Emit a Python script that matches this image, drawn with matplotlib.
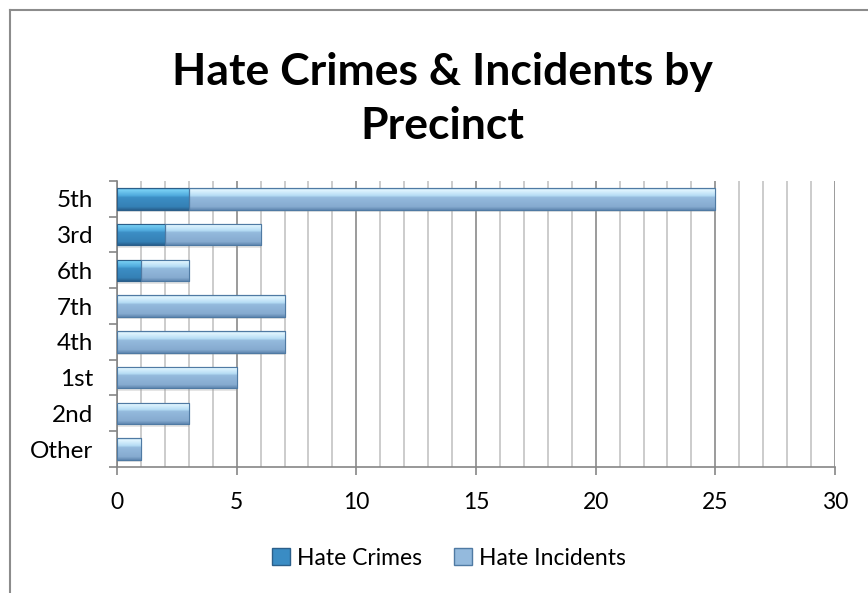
import numpy as np
import matplotlib
matplotlib.use("Agg")
import matplotlib.pyplot as plt
from matplotlib.colors import LinearSegmentedColormap
from matplotlib.lines import Line2D

precincts = ["5th", "3rd", "6th", "7th", "4th", "1st", "2nd", "Other"]
hate_crimes = [3, 2, 1, 0, 0, 0, 0, 0]
hate_incidents = [22, 4, 2, 7, 7, 5, 3, 1]

plt.rcParams['font.family'] = ['Lato', 'DejaVu Sans']

fig = plt.figure(figsize=(8.68, 5.93), dpi=100)
ax = fig.add_axes([0.1348, 0.2125, 0.8272, 0.4823])

y = np.arange(len(precincts))

# top -> bottom colour stops, imitating the bevelled Excel bars
crime_cmap = LinearSegmentedColormap.from_list("crime", [
    (0.0, "#3d8ac2"), (0.08, "#7ad0f4"), (0.35, "#4ea9dc"), (0.42, "#3c8ec5"),
    (0.85, "#3581b6"), (1.0, "#28608e")])
incid_cmap = LinearSegmentedColormap.from_list("incid", [
    (0.0, "#8ab3d6"), (0.08, "#e2f6ff"), (0.35, "#b5dcf4"), (0.42, "#94badd"),
    (0.85, "#86abd0"), (1.0, "#6087b0")])

totals = [c + i for c, i in zip(hate_crimes, hate_incidents)]
ax.barh(y + 0.07, totals, height=0.6, color="#9a9a9a", alpha=0.25,
        linewidth=0, zorder=2.5)

b1 = ax.barh(y, hate_crimes, height=0.6, color="#3a8cc4",
             edgecolor="#2b5f8a", linewidth=0.8, label="Hate Crimes", zorder=3)
b2 = ax.barh(y, hate_incidents, left=hate_crimes, height=0.6, color="#9cc0e2",
             edgecolor="#4f7aa3", linewidth=0.8, label="Hate Incidents", zorder=3)

grad = np.linspace(0, 1, 128).reshape(-1, 1)
for bars, cmap in ((b1, crime_cmap), (b2, incid_cmap)):
    for p in bars:
        if p.get_width() <= 0:
            continue
        x0, y0 = p.get_x(), p.get_y()
        # y axis is inverted, so row 0 lands on the visual top edge
        im = ax.imshow(grad, cmap=cmap, aspect="auto", origin="upper",
                       extent=(x0, x0 + p.get_width(), y0 + p.get_height(), y0),
                       zorder=3.5, interpolation="bilinear")
        im.set_clip_path(p)
        ax.add_patch(plt.Rectangle((x0, y0), p.get_width(), p.get_height(),
                                   fill=False, edgecolor=p.get_edgecolor(),
                                   linewidth=0.8, zorder=4))

ax.set_xlim(0, 30)
ax.set_ylim(len(precincts) - 0.5, -0.5)
ax.set_xticks(np.arange(0, 31, 5))
ax.set_xticks(np.arange(0, 31, 1), minor=True)
ax.set_yticks(y)
ax.set_yticklabels(precincts)
ax.set_yticks(np.arange(-0.5, len(precincts), 1), minor=True)

ax.grid(axis="x", which="minor", color="#c4c4c4", linewidth=1.2, zorder=0)
ax.grid(axis="x", which="major", color="#8a8a8a", linewidth=1.2, zorder=0)
ax.set_axisbelow(True)

for s in ["top", "right"]:
    ax.spines[s].set_visible(False)
ax.spines["left"].set_color("#868686")
ax.spines["bottom"].set_color("#868686")
ax.spines["left"].set_linewidth(1.2)
ax.spines["bottom"].set_linewidth(1.2)

ax.tick_params(axis="x", which="major", length=6, color="#868686", width=1.2,
               labelsize=16.5, pad=12)
ax.tick_params(axis="x", which="minor", length=0)
ax.tick_params(axis="y", which="major", length=0, labelsize=17.5, pad=17)
ax.tick_params(axis="y", which="minor", length=6, color="#868686", width=1.2)

fig.text(0.510, 0.833, "Hate Crimes & Incidents by\nPrecinct", ha="center",
         va="center", fontsize=32, fontweight="bold", linespacing=1.4)

handles = [
    plt.Rectangle((0, 0), 1, 1, facecolor="#3a8cc4", edgecolor="#2b5f8a"),
    plt.Rectangle((0, 0), 1, 1, facecolor="#94badd", edgecolor="#4f7aa3"),
]
fig.legend(handles, ["Hate Crimes", "Hate Incidents"], loc="center",
           bbox_to_anchor=(0.517, 0.059), ncol=2, frameon=False, fontsize=16.5,
           handlelength=0.8, handleheight=0.8, handletextpad=0.3,
           columnspacing=1.4)

# chart area border (top and left edges visible)
fig.add_artist(Line2D([10 / 868, 1.0], [1 - 10 / 593, 1 - 10 / 593],
                      transform=fig.transFigure, color="#8c8c8c", linewidth=1.5))
fig.add_artist(Line2D([10 / 868, 10 / 868], [0.0, 1 - 10 / 593],
                      transform=fig.transFigure, color="#8c8c8c", linewidth=1.5))

fig.savefig("out.png", dpi=100)
